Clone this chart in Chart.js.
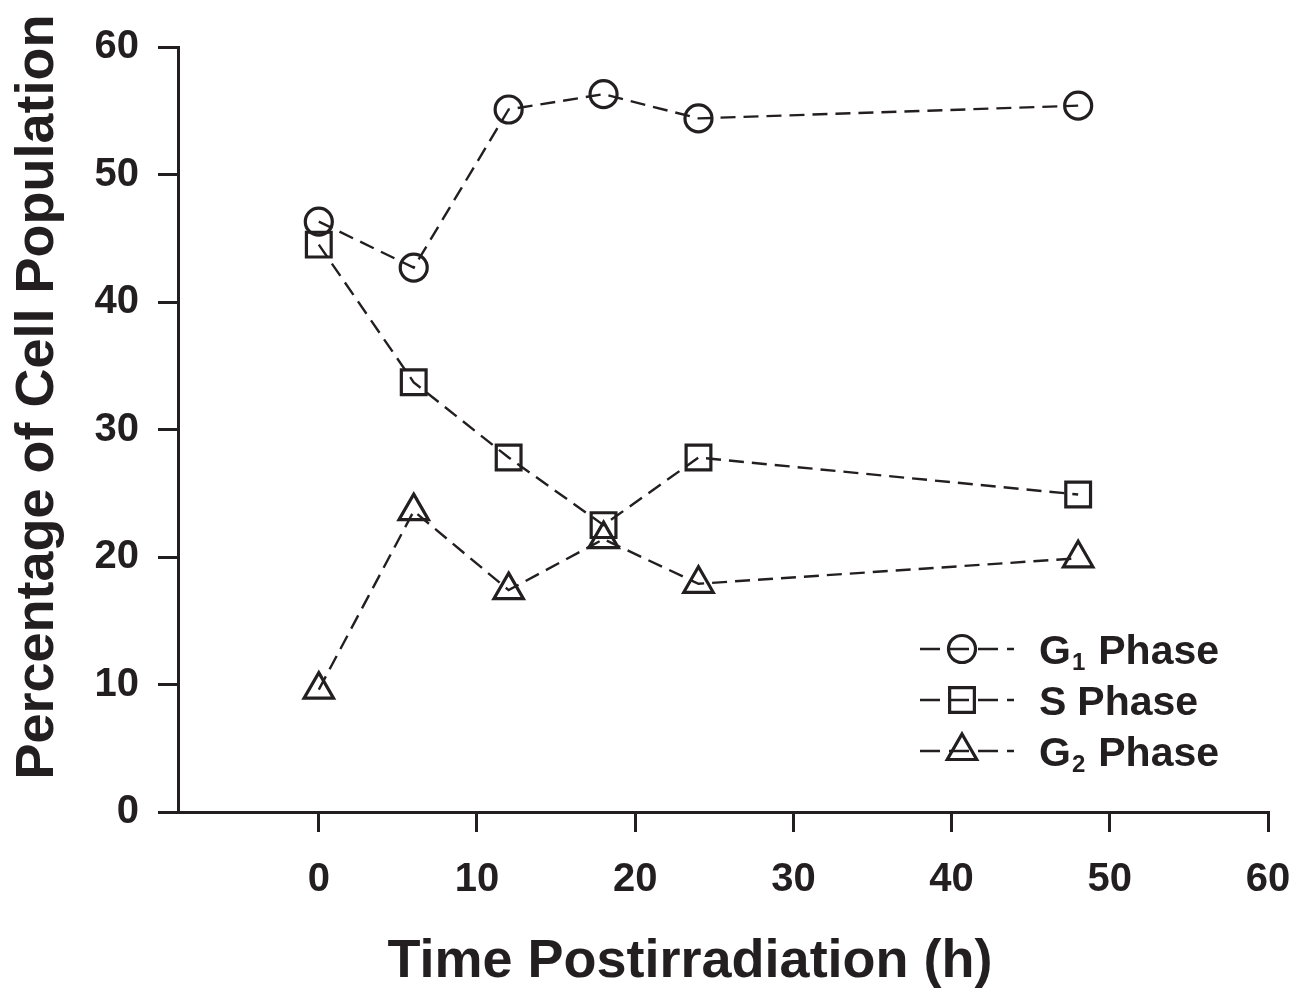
<!DOCTYPE html>
<html><head><meta charset="utf-8">
<script src="https://cdn.jsdelivr.net/npm/chart.js@4/dist/chart.umd.min.js"></script>
<style>html,body{margin:0;padding:0;background:#fff}#wrap{width:1294px;height:988px}</style>
</head><body><div id="wrap"><canvas id="c" width="1294" height="988"></canvas></div>
<script>
const timePoints = [0, 6, 12, 18, 24, 48];
const g1Phase = [46.3, 42.7, 55.1, 56.3, 54.4, 55.4];
const sPhase  = [44.5, 33.7, 27.8, 22.5, 27.8, 24.9];
const g2Phase = [9.6, 23.6, 17.4, 21.4, 17.9, 19.9];
const xTicks = [0, 10, 20, 30, 40, 50, 60];
const yTicks = [0, 10, 20, 30, 40, 50, 60];
const seriesLabels = ['G\u2081 Phase', 'S Phase', 'G\u2082 Phase'];
const legendParts = [['G', '1', 'Phase'], ['S', '', 'Phase'], ['G', '2', 'Phase']];
const markerStyles = ['circle', 'rect', 'triangle'];
const markerRadii = [13.5, 17.5, 17];
const xTitle = 'Time Postirradiation (h)';
const yTitle = 'Percentage of Cell Population';

const ink = '#231f20';
const FAM = '"Liberation Sans", Arial, Helvetica, sans-serif';

const seriesData = [g1Phase, sPhase, g2Phase];
const datasets = seriesData.map((vals, k) => ({
  label: seriesLabels[k],
  data: timePoints.map((t, i) => ({x: t, y: vals[i]})),
  showLine: true,
  borderColor: ink,
  borderWidth: 2.4,
  borderDash: [15, 8],
  pointStyle: markerStyles[k],
  pointRadius: markerRadii[k],
  pointBorderWidth: 3.2,
  pointBorderColor: ink,
  pointBackgroundColor: 'rgba(0,0,0,0)',
  fill: false,
  tension: 0,
  clip: false
}));

const extras = {
  id: 'extras',
  afterDraw(chart) {
    const ctx = chart.ctx;
    ctx.save();
    ctx.fillStyle = ink;
    // axis titles
    ctx.font = 'bold 54px ' + FAM;
    ctx.textAlign = 'center';
    ctx.textBaseline = 'alphabetic';
    ctx.fillText(xTitle, 690, 977);
    ctx.save();
    ctx.translate(53, 397);
    ctx.rotate(-Math.PI / 2);
    ctx.fillText(yTitle, 0, 0);
    ctx.restore();
    // legend
    const rows = [649, 700, 751];
    rows.forEach((y, k) => {
      ctx.save();
      ctx.strokeStyle = ink;
      ctx.lineWidth = 2.4;
      ctx.setLineDash([20, 9]);
      ctx.beginPath();
      ctx.moveTo(920, y);
      ctx.lineTo(1014, y);
      ctx.stroke();
      ctx.setLineDash([]);
      ctx.lineWidth = 3.2;
      ctx.fillStyle = 'rgba(0,0,0,0)';
      Chart.helpers.drawPoint(ctx, {pointStyle: markerStyles[k], radius: markerRadii[k], rotation: 0, borderWidth: 3.2}, 962, y);
      ctx.restore();
      const p = legendParts[k];
      ctx.textAlign = 'left';
      ctx.textBaseline = 'alphabetic';
      let x = 1039;
      const base = y + 15;
      ctx.font = 'bold 41px ' + FAM;
      ctx.fillText(p[0], x, base);
      x += ctx.measureText(p[0]).width;
      if (p[1]) {
        x += 1;
        ctx.font = 'bold 24px ' + FAM;
        ctx.fillText(p[1], x, base + 6);
        x += ctx.measureText(p[1]).width + 13;
      } else {
        x += 11;
      }
      ctx.font = 'bold 41px ' + FAM;
      ctx.fillText(p[2], x, base);
    });
    ctx.restore();
  }
};

new Chart(document.getElementById('c'), {
  type: 'scatter',
  data: {datasets},
  options: {
    responsive: false,
    animation: false,
    devicePixelRatio: 1,
    layout: {padding: {top: 47, right: 26, left: 0, bottom: 0}},
    plugins: {legend: {display: false}, tooltip: {enabled: false}},
    scales: {
      x: {
        type: 'linear', min: -8.9, max: 60,
        afterBuildTicks: s => { s.ticks = xTicks.map(v => ({value: v})); },
        afterFit: s => { s.height = 176; s.paddingRight = 0; s.paddingLeft = 0; },
        border: {color: ink, width: 3},
        grid: {drawOnChartArea: false, drawTicks: true, tickLength: 20, color: ink, lineWidth: 3},
        ticks: {font: {family: FAM, size: 40, weight: 'bold'}, color: ink, padding: 24, maxRotation: 0, autoSkip: false}
      },
      y: {
        type: 'linear', min: 0, max: 60,
        afterBuildTicks: s => { s.ticks = yTicks.map(v => ({value: v})); },
        afterFit: s => { s.width = 178; },
        border: {color: ink, width: 3},
        grid: {drawOnChartArea: false, drawTicks: true, tickLength: 20, color: ink, lineWidth: 3},
        ticks: {font: {family: FAM, size: 40, weight: 'bold'}, color: ink, padding: 19, autoSkip: false}
      }
    }
  },
  plugins: [extras]
});
</script>
</body></html>
